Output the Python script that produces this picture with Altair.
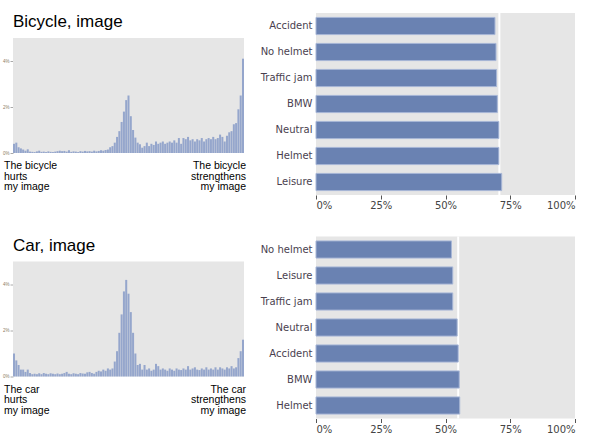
import altair as alt
import pandas as pd

# ---------------- data ----------------
bins = list(range(101))  # slider positions 0..100

bike_hist = [
    0.4, 0.45, 0.25, 0.2, 0.15, 0.1, 0.16, 0.06, 0.05, 0.04,
    0.07, 0.1, 0.05, 0.06, 0.04, 0.07, 0.05, 0.04, 0.06, 0.08,
    0.1, 0.08, 0.09, 0.06, 0.12, 0.05, 0.07, 0.06, 0.04, 0.08,
    0.06, 0.09, 0.07, 0.08, 0.06, 0.1, 0.07, 0.09, 0.12, 0.1,
    0.13, 0.15, 0.25, 0.3, 0.45, 0.7, 0.95, 1.35, 1.8, 2.3,
    2.5, 1.6, 1.0, 0.67, 0.45, 0.38, 0.23, 0.3, 0.45, 0.3,
    0.4, 0.35, 0.5, 0.4, 0.45, 0.5, 0.4, 0.45, 0.5, 0.45,
    0.55, 0.45, 0.65, 0.4, 0.65, 0.6, 0.7, 0.55, 0.6, 0.5,
    0.6, 0.55, 0.65, 0.5, 0.6, 0.65, 0.6, 0.7, 0.6, 0.65,
    0.8, 0.7, 0.5, 0.75, 0.9, 0.95, 1.25, 1.3, 1.9, 2.5,
    4.1,
]

car_hist = [
    1.0, 0.7, 0.5, 0.3, 0.3, 0.2, 0.3, 0.15, 0.1, 0.12,
    0.1, 0.14, 0.1, 0.15, 0.12, 0.1, 0.14, 0.12, 0.1, 0.13,
    0.1, 0.12, 0.15, 0.2, 0.12, 0.1, 0.14, 0.12, 0.1, 0.15,
    0.13, 0.12, 0.18, 0.2, 0.15, 0.12, 0.2, 0.25, 0.22, 0.3,
    0.25, 0.35, 0.3, 0.35, 0.65, 1.1, 1.9, 2.7, 3.7, 4.2,
    3.6, 2.8, 1.9, 1.0, 0.5, 0.55, 0.3, 0.5, 0.3, 0.35,
    0.25, 0.3, 0.55, 0.45, 0.3, 0.35, 0.3, 0.25, 0.35, 0.3,
    0.25, 0.35, 0.3, 0.28, 0.35, 0.3, 0.45, 0.3, 0.35, 0.4,
    0.3, 0.28, 0.35, 0.3, 0.4, 0.3, 0.35, 0.3, 0.4, 0.3,
    0.4, 0.35, 0.3, 0.4, 0.35, 0.45, 0.35, 0.4, 0.8, 1.1,
    1.6,
]

bike_cats = ["Accident", "No helmet", "Traffic jam", "BMW", "Neutral", "Helmet", "Leisure"]
bike_vals = [0.691, 0.695, 0.697, 0.700, 0.706, 0.706, 0.717]
bike_overall = [0.708]

car_cats = ["No helmet", "Leisure", "Traffic jam", "Neutral", "Accident", "BMW", "Helmet"]
car_vals = [0.523, 0.528, 0.528, 0.545, 0.549, 0.553, 0.555]
car_overall = [0.549]

hist_ticks = [0, 1, 2, 3, 4]
hist_domain = [0, 5]
bar_ticks = [0, 0.25, 0.5, 0.75, 1.0]

bike_title = "Bicycle, image"
car_title = "Car, image"
bike_left = "The bicycle\nhurts\nmy image"
bike_right = "The bicycle\nstrengthens\nmy image"
car_left = "The car\nhurts\nmy image"
car_right = "The car\nstrengthens\nmy image"

# ---------------- styles ----------------
HIST_COLOR = "#95a6cc"
BAR_COLOR = "#6a82b2"
BAR_STROKE = "#a7b6d6"
BG = "#e6e6e6"
SANS = "Liberation Sans"
VERD = "DejaVu Sans"


def hist_axis():
    return alt.Axis(
        values=hist_ticks,
        labelExpr="datum.value + '%'",
        title=None,
        grid=False,
        domain=False,
        tickSize=3,
        tickColor="#aaaaaa",
        labelFontSize=4.5,
        labelColor="#8c7b62",
        labelPadding=1,
        labelOverlap=False,
    )


def hist(values, title, left_txt, right_txt):
    # view is 140 tall; the data area is the lower 115 px, the title sits above it
    yscale = alt.Scale(domain=hist_domain, range=[140, 25])
    xenc = alt.X("bin:O", axis=None, scale=alt.Scale(paddingInner=0.12, paddingOuter=0))

    bg = alt.Chart(pd.DataFrame({"lo": [hist_domain[0]], "hi": [hist_domain[1]]})).mark_rect(
        color=BG).encode(
        y=alt.Y("hi:Q", scale=yscale, axis=hist_axis()),
        y2="lo:Q",
    )
    df = pd.DataFrame({"bin": bins, "pct": values})
    bars = alt.Chart(df).mark_bar(color=HIST_COLOR).encode(
        x=xenc,
        y=alt.Y("pct:Q", scale=yscale, axis=hist_axis()),
    )
    tdf = pd.DataFrame({"bin": [0], "pct": [hist_domain[1]], "label": [title]})
    ttext = alt.Chart(tdf).mark_text(
        align="left", baseline="alphabetic", fontSize=17, font=SANS,
        color="#000000", dx=-1, dy=-11).encode(x="bin:O", y="pct:Q", text="label:N")
    ldf = pd.DataFrame({"bin": [0], "pct": [0], "label": [left_txt]})
    rdf = pd.DataFrame({"bin": [100], "pct": [0], "label": [right_txt]})
    tstyle = dict(baseline="top", lineBreak="\n", fontSize=10.5, lineHeight=10.5,
                  font=SANS, color="#000000", dy=8)
    ltext = alt.Chart(ldf).mark_text(align="left", dx=-10, **tstyle).encode(
        x="bin:O", y="pct:Q", text="label:N")
    rtext = alt.Chart(rdf).mark_text(align="right", dx=3, **tstyle).encode(
        x="bin:O", y="pct:Q", text="label:N")
    return alt.layer(bg, bars, ttext, ltext, rtext).properties(
        width=231, height=140,
        view=alt.ViewBackground(fill=None, stroke=None),
    )


def barchart(cats, vals, overall):
    df = pd.DataFrame({"cat": cats, "val": vals})
    xenc = alt.X(
        "val:Q",
        scale=alt.Scale(domain=[0, 1]),
        axis=alt.Axis(values=bar_ticks, format="%", title=None, grid=False, domain=False,
                      tickSize=4, tickColor="#555555", labelColor="#444444",
                      labelFontSize=10, labelFont=VERD, labelPadding=1.5),
    )
    yenc = alt.Y(
        "cat:N",
        sort=cats,
        scale=alt.Scale(paddingInner=0.34, paddingOuter=0.17),
        axis=alt.Axis(title=None, ticks=False, domain=False, labelFontSize=10,
                      labelFont=VERD, labelColor="#4a3f4f", labelPadding=4),
    )
    rule = alt.Chart(pd.DataFrame({"val": overall})).mark_rule(
        color="white", strokeWidth=2).encode(x=alt.X("val:Q"))
    bars = alt.Chart(df).mark_bar(color=BAR_COLOR, stroke=BAR_STROKE, strokeWidth=1).encode(
        x=xenc, y=yenc)
    return alt.layer(rule, bars).properties(
        width=259, height=182,
        view=alt.ViewBackground(fill=BG, stroke=None),
    )


row1 = alt.hconcat(hist(bike_hist, bike_title, bike_left, bike_right),
                   barchart(bike_cats, bike_vals, bike_overall), spacing=14)
row2 = alt.hconcat(hist(car_hist, car_title, car_left, car_right),
                   barchart(car_cats, car_vals, car_overall), spacing=14)

chart = alt.vconcat(row1, row2, spacing=24.5).configure_view(
    stroke=None
).properties(
    padding={"left": 2, "top": 12, "right": 0, "bottom": 0},
    background="white",
)

chart.save("out.html", embed_options={"renderer": "svg", "actions": False})
